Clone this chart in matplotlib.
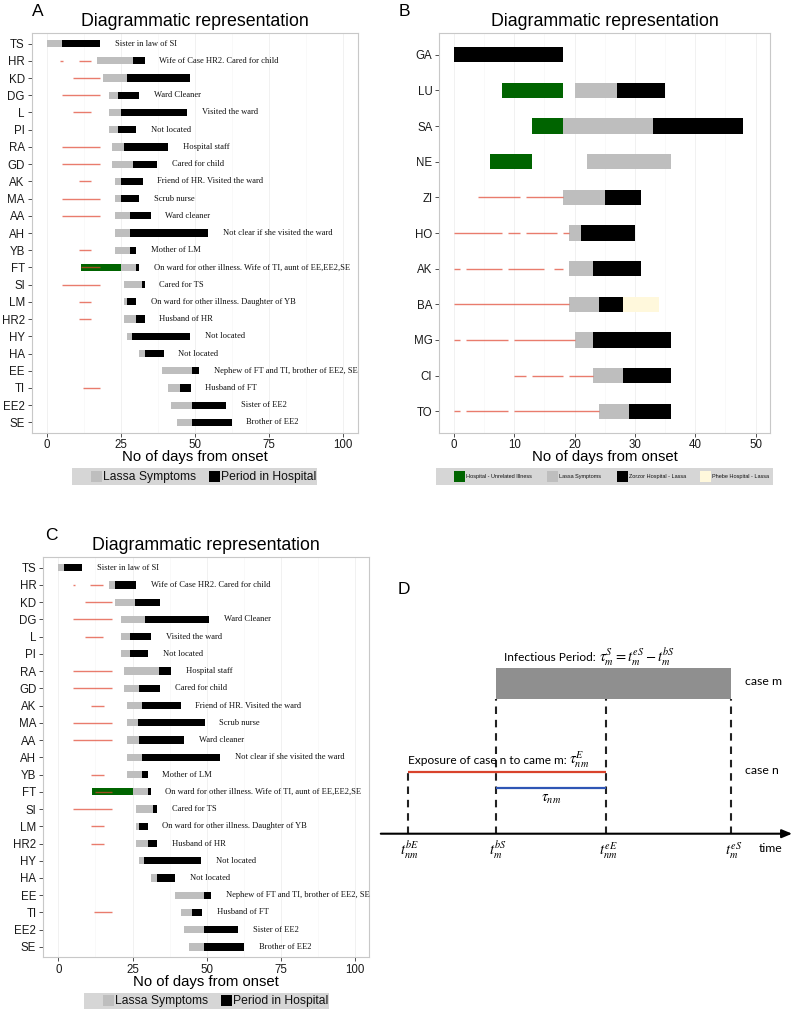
import matplotlib
matplotlib.use("Agg")
import matplotlib.pyplot as plt
from matplotlib.patches import Rectangle
from matplotlib.ticker import MultipleLocator

plt.rcParams['font.family'] = ['Liberation Sans', 'DejaVu Sans']
plt.rcParams['mathtext.fontset'] = 'stix'

W, H = 797, 1013
fig = plt.figure(figsize=(W / 100, H / 100), dpi=100)

# ---------------- data ----------------
names_A = ['TS', 'HR', 'KD', 'DG', 'L', 'PI', 'RA', 'GD', 'AK', 'MA', 'AA', 'AH',
           'YB', 'FT', 'SI', 'LM', 'HR2', 'HY', 'HA', 'EE', 'TI', 'EE2', 'SE']
notes_A = ['Sister in law of SI', 'Wife of Case HR2. Cared for child', '', 'Ward Cleaner',
           'Visited the ward', 'Not located', 'Hospital staff', 'Cared for child',
           'Friend of HR. Visited the ward', 'Scrub nurse', 'Ward cleaner',
           'Not clear if she visited the ward', 'Mother of LM',
           'On ward for other illness. Wife of TI, aunt of EE,EE2,SE', 'Cared for TS',
           'On ward for other illness. Daughter of YB', 'Husband of HR', 'Not located',
           'Not located', 'Nephew of FT and TI, brother of EE2, SE', 'Husband of FT',
           'Sister of EE2', 'Brother of EE2']
sym_start_A = [0, 17, 19, 21, 21, 21, 22, 22, 23, 23, 23, 23, 23, 25, 26, 26, 26, 27, 31, 39, 41, 42, 44]
hosp_start_A = [5, 29, 27, 24, 25, 24, 26, 29, 25, 25, 28, 28, 28, 30, 32, 27, 30, 28.7, 33, 49, 45, 49, 49]
hosp_end_A = [18, 33, 48.3, 31, 47.4, 30, 41, 37.3, 32.3, 31, 35, 54.5, 30, 31, 33, 30, 33, 48.3, 39.4, 51.5, 48.5, 60.4, 62.4]
expo_A = {'HR': [(4.5, 5.5), (10.7, 15)], 'KD': [(8.8, 18)], 'DG': [(5, 18)], 'L': [(8.8, 15)],
          'RA': [(5, 18)], 'GD': [(5, 18)], 'AK': [(10.8, 15)], 'MA': [(5, 18)], 'AA': [(5, 18)],
          'YB': [(10.8, 15)], 'FT': [(11.5, 18)], 'SI': [(5, 18)], 'LM': [(10.8, 15)],
          'HR2': [(10.8, 15)], 'TI': [(12, 18)]}
other_ill_A = {'FT': (11.4, 25)}

sym_start_C = [0, 17, 19, 21.2, 21.2, 21.2, 22, 22, 23.1, 23.1, 23.1, 23.1, 23.1, 25, 26.2, 26.2, 26.2, 27.2, 31.2, 39.2, 41.2, 42.4, 44.2]
hosp_start_C = [1.9, 19, 26, 29.3, 24, 24, 34, 27.2, 28.1, 26.9, 27.2, 28.2, 28.3, 30.1, 32, 27.2, 30.3, 28.8, 33.1, 49.2, 45, 49.2, 49.2]
hosp_end_C = [8.1, 26.3, 34.4, 50.7, 31.2, 30.3, 38, 34.2, 41.2, 49.3, 42.4, 54.6, 30.1, 31.1, 33.3, 30.1, 33.3, 48.2, 39.4, 51.5, 48.4, 60.6, 62.6]
expo_C = {'HR': [(4.8, 5.7), (10.7, 15.2)], 'KD': [(8.9, 18.2)], 'DG': [(5, 18)], 'L': [(9, 15.2)],
          'RA': [(5, 18)], 'GD': [(5, 18)], 'AK': [(10.9, 15.3)], 'MA': [(5, 18)], 'AA': [(5, 18)],
          'YB': [(10.9, 15.3)], 'FT': [(12.4, 18)], 'SI': [(5, 18)], 'LM': [(10.9, 15.3)],
          'HR2': [(10.9, 15.3)], 'TI': [(12, 18.2)]}
other_ill_C = {'FT': (11.5, 25)}

names_B = ['GA', 'LU', 'SA', 'NE', 'ZI', 'HO', 'AK', 'BA', 'MG', 'CI', 'TO']
unrelated_B = {'LU': (8, 18), 'SA': (13, 18), 'NE': (6, 13)}
symptoms_B = {'LU': (20, 27), 'SA': (18, 33), 'NE': (22, 36), 'ZI': (18, 25), 'HO': (19, 21),
              'AK': (19, 23), 'BA': (19, 24), 'MG': (20, 23), 'CI': (23, 28), 'TO': (24, 29)}
zorzor_B = {'GA': (0, 18), 'LU': (27, 35), 'SA': (33, 48), 'ZI': (25, 31), 'HO': (21, 30),
            'AK': (23, 31), 'BA': (24, 28), 'MG': (23, 36), 'CI': (28, 36), 'TO': (29, 36)}
phebe_B = {'BA': (28, 34)}
expo_B = {'ZI': [(4, 11), (12, 18)], 'HO': [(0, 8), (9, 11), (12, 17), (18, 19)],
          'AK': [(0, 1), (2, 8), (9, 15), (16.5, 18)], 'BA': [(0, 19)],
          'MG': [(0, 1), (2, 9), (10, 20)], 'CI': [(10, 12), (13, 18), (19, 23)],
          'TO': [(0, 1), (2, 9), (10, 24)]}

legend_AC = ['Lassa Symptoms', 'Period in Hospital']
legend_B = ['Hospital - Unrelated Illness', 'Lassa Symptoms', 'Zorzor Hospital - Lassa', 'Phebe Hospital - Lassa']

# schematic (panel D), arbitrary time units
t_points = [0, 4, 9, 14.7]
t_labels = [r'$t_{nm}^{bE}$', r'$t_{m}^{bS}$', r'$t_{nm}^{eE}$', r'$t_{m}^{eS}$']

# ---------------- styles ----------------
GREY = '#bebebe'
BLACK = '#000000'
GREEN = '#006400'
CREAM = '#fff8dc'
RED = '#e0452f'
LEGBG = '#d6d6d6'
SERIF = ['Liberation Serif', 'DejaVu Serif']


def px_axes(l, t, r, b):
    return fig.add_axes([l / W, 1 - b / H, (r - l) / W, (b - t) / H])


def ftext(x, y, s, **kw):
    return fig.text(x / W, 1 - y / H, s, **kw)


def style_axes(ax, names, xlim, major, minor):
    ax.set_xlim(*xlim)
    ax.set_ylim(len(names) - 0.4, -0.6)
    ax.set_yticks(range(len(names)))
    ax.set_yticklabels(names)
    ax.xaxis.set_major_locator(MultipleLocator(major))
    ax.xaxis.set_minor_locator(MultipleLocator(minor))
    ax.grid(axis='x', which='major', color='#efefef', lw=0.6, zorder=0)
    ax.grid(axis='x', which='minor', color='#f6f6f6', lw=0.4, zorder=0)
    ax.set_axisbelow(True)
    for s in ax.spines.values():
        s.set_color('#c8c8c8')
        s.set_linewidth(0.8)
    ax.tick_params(axis='both', which='major', length=3, width=0.6, color='#333333',
                   labelsize=8.3, labelcolor='#1a1a1a', pad=2)
    ax.tick_params(axis='x', which='major', pad=1.5)
    ax.tick_params(axis='both', which='minor', length=0)


def draw_AC(ax, sym_s, hosp_s, hosp_e, expo, other):
    h = 0.42
    for i, n in enumerate(names_A):
        if n in other:
            a, b = other[n]
            ax.barh(i, b - a, left=a, height=h, color=GREEN, zorder=2)
        ax.barh(i, hosp_s[i] - sym_s[i], left=sym_s[i], height=h, color=GREY, zorder=2)
        ax.barh(i, hosp_e[i] - hosp_s[i], left=hosp_s[i], height=h, color=BLACK, zorder=2)
        for a, b in expo.get(n, []):
            ax.plot([a, b], [i, i], color=RED, lw=1.0, alpha=0.7, solid_capstyle='butt', zorder=3)
        if notes_A[i]:
            ax.text(hosp_e[i] + 5, i, notes_A[i], fontsize=6.1, family=SERIF,
                    va='center', ha='left', color='#111111')


def legend_box(l, t, r, b, keys, labels, colors, fs, ksize):
    lax = px_axes(l, t, r, b)
    lax.set_xlim(l, r)
    lax.set_ylim(b, t)
    lax.axis('off')
    lax.add_patch(Rectangle((l, t), r - l, b - t, color=LEGBG, zorder=0))
    cy = (t + b) / 2
    for kx, lab, c in zip(keys, labels, colors):
        lax.add_patch(Rectangle((kx, cy - ksize / 2), ksize, ksize, facecolor=c,
                                edgecolor='none', zorder=1))
        lax.text(kx + ksize + 1.2, cy, lab, fontsize=fs, va='center', ha='left', color='#111111')


# ---------------- Panel A ----------------
axA = px_axes(31.7, 33.3, 357.7, 432.7)
style_axes(axA, names_A, (-5.2, 105), 25, 12.5)
draw_AC(axA, sym_start_A, hosp_start_A, hosp_end_A, expo_A, other_ill_A)
ftext(37.5, 12, 'A', fontsize=12.5, ha='center', va='center')
ftext(194.7, 21, 'Diagrammatic representation', fontsize=12.8, ha='center', va='center')
ftext(194.7, 456.5, 'No of days from onset', fontsize=10.7, ha='center', va='center')
legend_box(72, 468, 317, 485, [91, 209], legend_AC, [GREY, BLACK], 8.7, 11)

# ---------------- Panel C ----------------
axC = px_axes(43.3, 557.3, 369.3, 957.3)
style_axes(axC, names_A, (-5.06, 104.8), 25, 12.5)
draw_AC(axC, sym_start_C, hosp_start_C, hosp_end_C, expo_C, other_ill_C)
ftext(51, 535, 'C', fontsize=12.5, ha='center', va='center')
ftext(206.3, 545.7, 'Diagrammatic representation', fontsize=12.8, ha='center', va='center')
ftext(206.3, 981.5, 'No of days from onset', fontsize=10.7, ha='center', va='center')
legend_box(84, 992.7, 329, 1009.3, [102.7, 220.7], legend_AC, [GREY, BLACK], 8.7, 11)

# ---------------- Panel B ----------------
axB = px_axes(439.3, 33.3, 770, 432.7)
style_axes(axB, names_B, (-2.44, 52.4), 10, 5)
hB = 0.43
for i, n in enumerate(names_B):
    for d, c in ((unrelated_B, GREEN), (symptoms_B, GREY), (zorzor_B, BLACK), (phebe_B, CREAM)):
        if n in d:
            a, b = d[n]
            axB.barh(i, b - a, left=a, height=hB, color=c, zorder=2)
    for a, b in expo_B.get(n, []):
        axB.plot([a, b], [i, i], color=RED, lw=1.0, alpha=0.7, solid_capstyle='butt', zorder=3)
ftext(404, 12, 'B', fontsize=12.5, ha='center', va='center')
ftext(604.6, 21.5, 'Diagrammatic representation', fontsize=12.8, ha='center', va='center')
ftext(604.6, 456.5, 'No of days from onset', fontsize=10.7, ha='center', va='center')
legend_box(436, 467.7, 773, 485, [454, 547, 617, 700], legend_B,
           [GREEN, GREY, BLACK, CREAM], 4.0, 11)

# ---------------- Panel D ----------------
x0px, unit, axis_py = 407.7, 22.0, 833.7
axD = px_axes(370, 560, 797, 880)
axD.set_xlim((370 - x0px) / unit, (797 - x0px) / unit)
axD.set_ylim(axis_py - 880, axis_py - 560)
axD.axis('off')
tbE, tbS, teE, teS = t_points
bar_lo, bar_hi = 134.7, 165.7
red_y, blue_y = 62.0, 45.7
axD.add_patch(Rectangle((tbS, bar_lo), teS - tbS, bar_hi - bar_lo, color='#8f8f8f', lw=0))
dash = (0, (3.6, 2.8))
for t in (tbS, teE, teS):
    axD.plot([t, t], [0, bar_lo], color='#222222', lw=1.5, ls=dash)
axD.plot([tbE, tbE], [0, red_y - 1.5], color='#222222', lw=1.5, ls=dash)
axD.plot([tbE, teE], [red_y, red_y], color='#d9432c', lw=1.6, solid_capstyle='butt')
axD.plot([tbS, teE], [blue_y, blue_y], color='#2f56b5', lw=1.6, solid_capstyle='butt')
axD.annotate('', xy=(17.6, 0), xytext=(-1.35, 0),
             arrowprops=dict(arrowstyle='-|>,head_length=0.6,head_width=0.25', color='black', lw=1.5))
for t, lab in zip(t_points, t_labels):
    axD.text(t + 0.1, -16.5, lab, fontsize=10.5, ha='center', va='center')
SANS_D = ['Lato', 'DejaVu Sans']
axD.text(15.97, -14.3, 'time', fontsize=8.8, family=SANS_D, ha='left', va='center')
t_inf = axD.text(4.38, 176.7, 'Infectious Period:', fontsize=8.6,
                 family=SANS_D, ha='left', va='center')
axD.annotate(r'$\tau_m^S=t_m^{eS}-t_m^{bS}$', xy=(1, 0.5), xycoords=t_inf,
             xytext=(2, 0), textcoords='offset points', fontsize=10.5, ha='left', va='center')
axD.text(15.33, 152.7, 'case m', fontsize=8.8, family=SANS_D, ha='left', va='center')
t_exp = axD.text(0.01, 73.7, 'Exposure of case n to came m:', fontsize=8.6,
                 family=SANS_D, ha='left', va='center')
axD.annotate(r'$\tau_{nm}^E$', xy=(1, 0.5), xycoords=t_exp,
             xytext=(2, 0), textcoords='offset points', fontsize=10.5, ha='left', va='center')
axD.text(15.33, 63, 'case n', fontsize=8.8, family=SANS_D, ha='left', va='center')
axD.text(6.51, 34.7, r'$\tau_{nm}$', fontsize=10.5, ha='center', va='center')
ftext(404, 590, 'D', fontsize=12.5, ha='center', va='center')

fig.savefig('out.png', dpi=100)
